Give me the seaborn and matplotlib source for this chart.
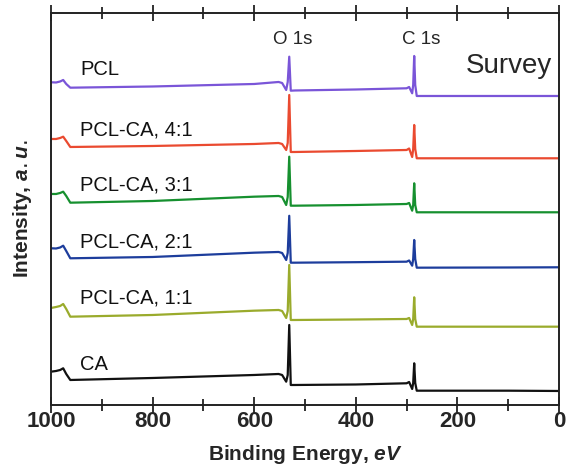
import numpy as np
import pandas as pd
import seaborn as sns
import matplotlib
matplotlib.use("Agg")
import matplotlib.pyplot as plt
from matplotlib.ticker import MultipleLocator

# binding energy grid (eV) shared by all spectra
BE = [1000, 990, 982, 976, 970, 962, 800, 600, 552, 545, 537, 534, 531, 528,
      520, 400, 300, 295, 289, 287, 285, 283, 280, 100, 0]

# stacked survey spectra, intensity in a.u. (offsets included)
PCL = [322.7, 322.5, 323.5, 325, 321, 317.3, 318.5, 321, 323, 322, 315, 323, 348.3, 314.3,
       314.5, 315.5, 316.7, 318, 311.7, 320, 349, 320, 309, 309, 309]
PCL_CA_41 = [266, 266, 267, 268.3, 264, 258, 259, 261, 262, 261, 255, 262, 310, 253,
             253, 254, 255, 256.5, 248, 256, 280, 256, 246.7, 246.7, 246.7]
PCL_CA_31 = [211, 211, 212, 213.3, 209, 202.3, 204, 208.3, 209, 208, 200, 208, 248.3, 199.3,
             199.3, 200, 201, 202, 194.3, 200, 221.7, 200, 192.7, 192.7, 192.7]
PCL_CA_21 = [156.7, 156.5, 157.5, 159.3, 154, 146.7, 148, 152.3, 153, 152, 145, 152, 189.2, 142.3,
             142.3, 142.8, 143.3, 144.5, 139.3, 146, 165, 146, 137.3, 137.5, 137.7]
PCL_CA_11 = [97, 98, 99, 101, 96, 88.3, 90, 94.3, 95, 94, 87, 94, 140, 85,
             85, 85.5, 86, 87, 80, 86, 107.7, 86, 78.3, 78.3, 78.3]
CA = [33.3, 34, 35, 36.7, 31, 25, 27, 30, 31, 30, 23.3, 30, 80, 20,
      20, 20.5, 21.7, 23, 16, 22, 41.7, 22, 14.3, 14.3, 14]

SAMPLES = ["PCL", "PCL-CA, 4:1", "PCL-CA, 3:1", "PCL-CA, 2:1", "PCL-CA, 1:1", "CA"]
SPECTRA = [PCL, PCL_CA_41, PCL_CA_31, PCL_CA_21, PCL_CA_11, CA]
COLORS = ["#7a55d8", "#ea4a30", "#16902f", "#1d3d9c", "#9aab2c", "#111111"]
LABEL_Y = [335, 275, 220, 163, 107, 40]

sns.set_style("ticks")
plt.rcParams['font.family'] = ['Liberation Sans', 'DejaVu Sans']
plt.rcParams['mathtext.fontset'] = 'custom'
plt.rcParams['mathtext.it'] = 'Liberation Sans:italic:bold'
plt.rcParams['xtick.top'] = True

df = pd.concat([pd.DataFrame({'BE': BE, 'I': s, 'sample': name})
                for name, s in zip(SAMPLES, SPECTRA)], ignore_index=True)

fig = plt.figure(figsize=(5.66, 4.74), dpi=100)
ax = fig.add_axes([0.0901, 0.1456, 0.8975, 0.827])

sns.lineplot(data=df, x='BE', y='I', hue='sample', hue_order=SAMPLES,
             palette=COLORS, linewidth=1.6, legend=False, ax=ax)

ax.set_xlim(1000, 0)
ax.set_ylim(0, 392)
ax.set_yticks([])
ax.xaxis.set_major_locator(MultipleLocator(200))
ax.xaxis.set_minor_locator(MultipleLocator(100))
ax.tick_params(axis='x', which='both', top=True, direction='inout', width=1.3,
               color='#222222')
ax.tick_params(axis='x', which='major', length=11, labelsize=16, pad=-1)
ax.tick_params(axis='x', which='minor', length=8)
for lab in ax.get_xticklabels():
    lab.set_fontweight('bold')

for sp in ax.spines.values():
    sp.set_linewidth(1.4)
    sp.set_color('#222222')

ax.set_xlabel(r"Binding Energy, $\it{eV}$", fontsize=15, fontweight='bold', labelpad=8)
ax.set_ylabel(r"Intensity, $\it{a.u.}$", fontsize=15, fontweight='bold', labelpad=12)

for name, y in zip(SAMPLES, LABEL_Y):
    ax.text(943, y, name, fontsize=14.5, ha='left', va='center', color='#111111')

ax.text(525, 365, "O 1s", fontsize=13.5, ha='center', va='center')
ax.text(271, 365, "C 1s", fontsize=13.5, ha='center', va='center')
ax.text(14, 339, "Survey", fontsize=20, ha='right', va='center')

fig.savefig("out.png", dpi=100)
